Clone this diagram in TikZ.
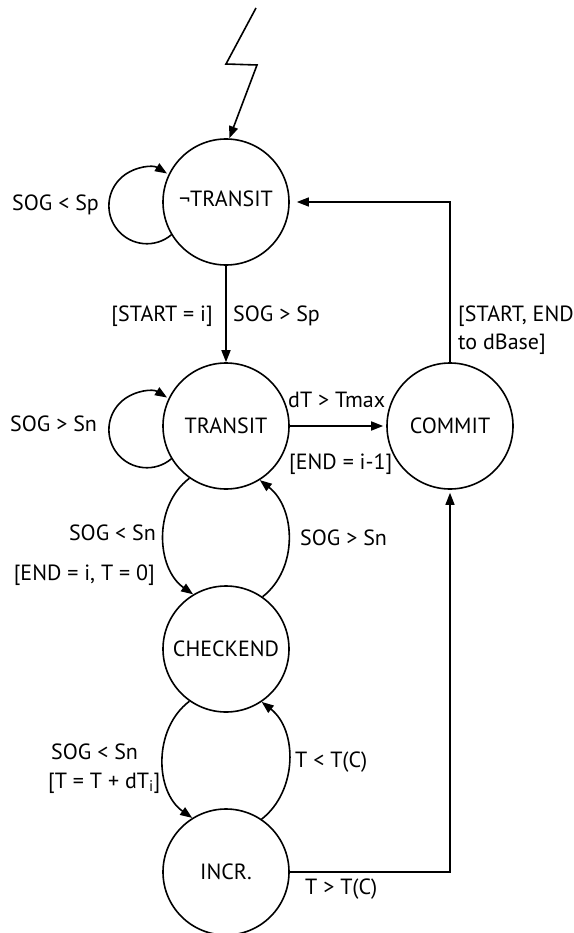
\documentclass[tikz,border=0pt]{standalone}
\usepackage{fontspec}
\setmainfont{PT Sans}
\usetikzlibrary{arrows.meta}
\begin{document}
\begin{tikzpicture}[x=1pt,y=1pt,
  every node/.style={font=\fontsize{22}{26}\selectfont},
  state/.style={circle,draw,line width=1.6pt,minimum size=126pt,inner sep=0pt},
  edge/.style={line width=1.6pt,-{Triangle[length=12pt,width=9pt]}},
  route/.style={edge,line width=1.3pt},
  lbl/.style={inner sep=0pt}]
\useasboundingbox (0,0) rectangle (573,-933);

% states
\node[state,label={[yshift=3.5pt]center:¬TRANSIT}] (N0) at (226,-202) {};
\node[state] (N1) at (226,-426) {TRANSIT};
\node[state] (C)  at (450,-426) {COMMIT};
\node[state] (N2) at (226,-649) {CHECKEND};
\node[state] (N3) at (226,-872) {INCR.};

% start event (lightning)
\coordinate (L0) at (256,-8);
\coordinate (L1) at (226,-64);
\coordinate (L2) at (257,-65);
\draw[edge,line join=miter] (L0) -- (L1) -- (L2) -- (N0.87);

% self loops
\draw[edge] (N0.211) arc[start angle=-50,end angle=-302,radius=38pt];
\draw[edge] (N1.211) arc[start angle=-50,end angle=-302,radius=38pt];

% straight transitions
\draw[edge] (N0.south) -- (N1.north);
\draw[edge,shorten >=3pt] (N1.east) -- (C.west);
\draw[route,shorten >=7pt] (C.north) |- (N0.east);
\draw[route,shorten >=3pt] (N3.east) -| (C.south);

% curved transitions
\draw[edge] (N1.235) to[out=217,in=145] (N2.121);
\draw[edge] (N2.55) to[out=38,in=-38] (N1.302);
\draw[edge] (N2.235) to[out=217,in=145] (N3.122);
\draw[edge] (N3.56) to[out=38,in=-38] (N2.304);

% labels
\node[lbl,anchor=base west] (t1) at (12,-211) {SOG < Sp};
\node[lbl,anchor=base west] (t2) at (10,-431) {SOG > Sn};
\node[lbl,anchor=base east] (t3) at (213,-321) {[START = i]};
\node[lbl,anchor=base west] (t4) at (233,-321) {SOG > Sp};
\node[lbl,anchor=base west] (t5) at (458,-321) {[START, END};
\node[lbl,anchor=base west] (t6) at (458,-349) {to dBase]};
\node[lbl,anchor=base west] (t7) at (288,-407) {dT > Tmax};
\node[lbl,anchor=base west] (t8) at (289,-469) {[END = i-1]};
\node[lbl,anchor=base east] (t9) at (156,-540) {SOG < Sn};
\node[lbl,anchor=base east] (t10) at (155,-580) {[END = i, T = 0]};
\node[lbl,anchor=base west] (t11) at (300,-545) {SOG > Sn};
\node[lbl,anchor=base west] (t12) at (51,-759) {SOG < Sn};
\node[lbl,anchor=base west] (t13) at (48,-788) {[T = T + dT\textsubscript{i}]};
\node[lbl,anchor=base west] (t14) at (295,-767) {T < T(C)};
\node[lbl,anchor=base west] (t15) at (305,-894) {T > T(C)};
\end{tikzpicture}
\end{document}
